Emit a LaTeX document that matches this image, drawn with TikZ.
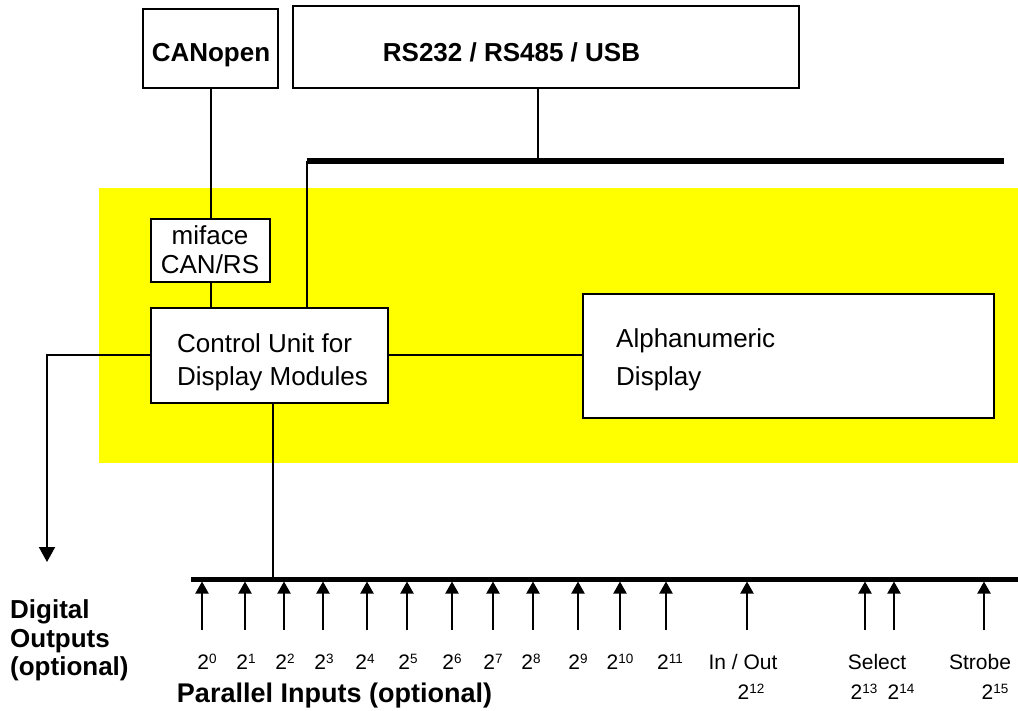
\documentclass[tikz,border=0pt]{standalone}
\usepackage{fontspec}
\setmainfont{Liberation Sans}
\usetikzlibrary{arrows.meta}
\definecolor{panelyellow}{RGB}{255,255,0}
\newcommand\pwr[1]{2\raisebox{6pt}{\fontsize{13.5}{14}\selectfont #1}}
\begin{document}
\begin{tikzpicture}[x=1pt,y=-1pt,
 box/.style={draw, line width=2.7pt, fill=white, inner sep=0pt, outer sep=0pt, anchor=north west},
 wire/.style={line width=2pt},
 busline/.style={line width=5.5pt},
 txt/.style={inner sep=0pt, font=\fontsize{26}{30}\selectfont},
 btxt/.style={inner sep=0pt, font=\fontsize{26}{30}\selectfont\bfseries},
 lbl/.style={inner sep=0pt, font=\fontsize{21}{24}\selectfont, anchor=base},
 inarrow/.style={line width=2pt, -{Triangle[width=13pt,length=12pt]}},
]
\useasboundingbox (0,0) rectangle (1018,711);
% yellow panel
\node[fill=panelyellow, anchor=north west, inner sep=0pt, outer sep=0pt, minimum width=919pt, minimum height=275pt] (panel) at (99,188) {};
% boxes
\node[box, minimum width=135pt, minimum height=79pt] (canopen) at (143,9) {};
\node[box, minimum width=506pt, minimum height=82pt] (rs) at (293,6) {};
\node[box, minimum width=119pt, minimum height=63pt] (miface) at (151,219) {};
\node[box, minimum width=237pt, minimum height=95pt] (control) at (151,308) {};
\node[box, minimum width=411pt, minimum height=124pt] (display) at (583,294) {};
% box texts
\node[btxt, anchor=base] (tcan) at (211,62) {CANopen};
\node[btxt, anchor=base] (trs) at (511.5,62) {RS232 / RS485 / USB};
\node[txt, anchor=base] (tmi1) at (210,245) {miface};
\node[txt, anchor=base] (tmi2) at (210,274) {CAN/RS};
\node[txt, anchor=base west] (tcu1) at (177,353) {Control Unit for};
\node[txt, anchor=base west] (tcu2) at (177,385) {Display Modules};
\node[txt, anchor=base west] (tad1) at (616,348) {Alphanumeric};
\node[txt, anchor=base west] (tad2) at (616,386) {Display};
% top bus
\coordinate (busL) at (307,161);
\coordinate (busR) at (1004,161);
\draw[busline, line width=6pt] (busL) -- (busR);
\draw[wire] ([xshift=-8pt]rs.south) -- ([xshift=-8pt]rs.south |- busL);
\draw[wire] (busL) -- (busL |- control.north);
\draw[wire] (canopen.south) -- (miface.north);
\draw[wire] (miface.south) -- (miface.south |- control.north);
\draw[wire] (control.east) -- (control.east -| display.west);
% digital outputs
\coordinate (dout) at (47,562);
\draw[wire, -{Triangle[width=16pt,length=15pt]}] (control.west) -| (dout);
% parallel bus
\coordinate (pL) at (191,579);
\coordinate (pR) at (1018,579);
\draw[busline, line width=5pt] (pL) -- (pR);
\draw[wire] ([xshift=3.5pt]control.south) -- ([xshift=3.5pt]control.south |- pL);
\foreach \xx [count=\k] in {202,245,284,323,367,407,452,493,533,578,620,666,747,865,894,984}{
  \coordinate (in\k) at (\xx,630);
  \draw[inarrow] (in\k) -- ([yshift=-2.5pt]in\k |- pL);
}
% labels
\foreach \xx/\e in {207/0,246/1,285/2,324/3,365/4,408/5,452/6,493/7,531/8,578/9,620/10,670/11}{
  \node[lbl] (p\e) at (\xx,669) {\pwr{\e}};
}
\node[lbl] (inout) at (743,669) {In / Out};
\node[lbl] (p12) at (751,699) {\pwr{12}};
\node[lbl] (select) at (877,669) {Select};
\node[lbl] (p13) at (864,699) {\pwr{13}};
\node[lbl] (p14) at (901,699) {\pwr{14}};
\node[lbl] (strobe) at (980,669) {Strobe};
\node[lbl] (p15) at (995,699) {\pwr{15}};
% bottom captions
\node[btxt, anchor=base west] (do1) at (10,618) {Digital};
\node[btxt, anchor=base west] (do2) at (10,647) {Outputs};
\node[btxt, anchor=base west] (do3) at (10,675) {(optional)};
\node[btxt, anchor=base, font=\fontsize{27}{30}\selectfont\bfseries] (pin) at (334.5,702) {Parallel Inputs (optional)};
\end{tikzpicture}
\end{document}
